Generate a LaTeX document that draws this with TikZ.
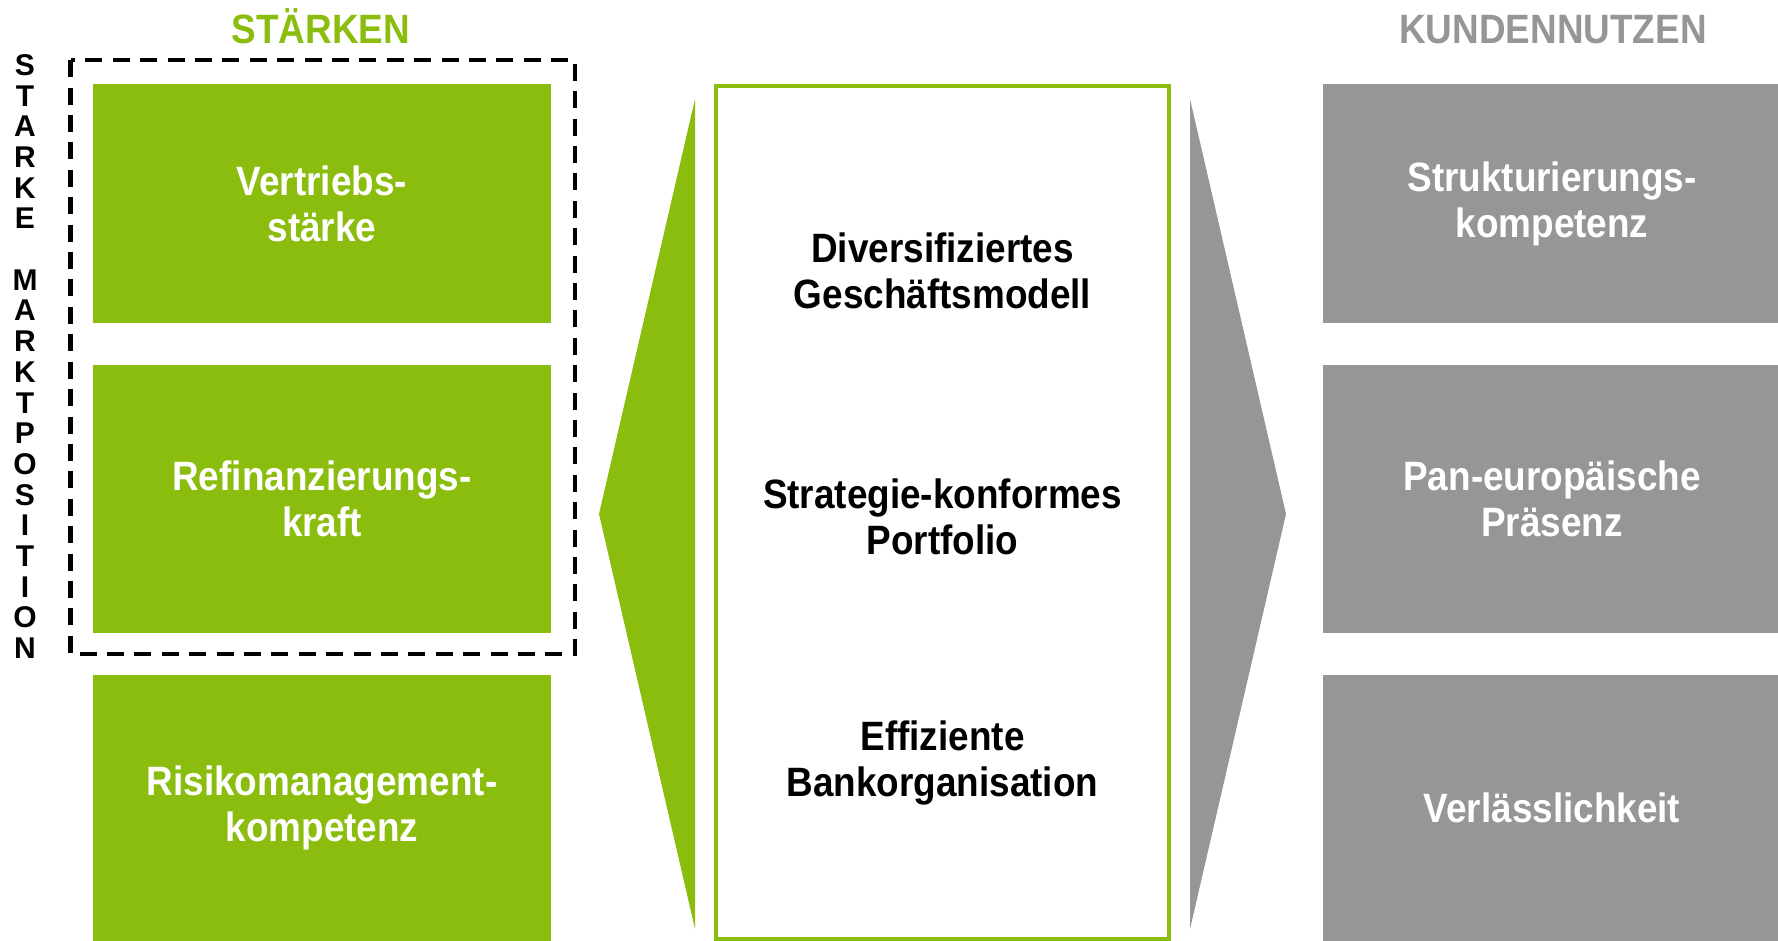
\documentclass[tikz,border=0pt]{standalone}
\usepackage{fontspec}
\setmainfont{Liberation Sans}[FakeStretch=0.9]
\newfontfamily\sidefamily{Liberation Sans}
\definecolor{lgreen}{HTML}{8BBD0F}
\definecolor{lgrey}{HTML}{969696}
\newcommand{\boxfont}{\bfseries\fontsize{20.5}{23}\selectfont}
\newcommand{\sidefont}{\sidefamily\bfseries\fontsize{15}{15.35}\selectfont}

\begin{document}
\begin{tikzpicture}[x = .5pt, y = -.5pt,
  box/.style = {inner sep=0, minimum width=229pt, align=center, text=white, font=\boxfont},
  strength/.style = {box, fill=lgreen},
  benefit/.style = {box, fill=lgrey},
  core/.style = {align=center, font=\boxfont},
  head/.style = {anchor=base, font=\boxfont}]
\useasboundingbox (0,0) rectangle (1778,941);

% headings
\node[head, text=lgreen] (staerken) at (321, 44) {STÄRKEN};
\node[head, text=lgrey] (nutzen) at (1553, 44) {KUNDENNUTZEN};

% left column
\node[strength, minimum height=119.5pt] (vertrieb) at (322, 203.5) {Vertriebs-\\stärke};
\node[strength, minimum height=134pt] (refi) at (322, 499) {Refinanzierungs-\\kraft};
\node[strength, minimum height=133pt] (risiko) at (322, 808) {Risikomanagement-\\kompetenz};

\draw[line width=2.15pt, dash pattern=on 8.5pt off 5.2pt] (70.5, 60.3) rectangle (575, 654);
\node[font=\sidefont, align=center, inner sep=0] (markt) at (25, 356.5)
  {S\\T\\A\\R\\K\\E\\[15.35pt]M\\A\\R\\K\\T\\P\\O\\S\\I\\T\\I\\O\\N};

% middle
\fill[lgreen] (695, 99) -- (599, 514) -- (695, 929) -- cycle;
\node[draw=lgreen, line width=2pt, inner sep=0, minimum width=226.5pt, minimum height=426.5pt] (mitte) at (942.5, 512.5) {};
\node[core] (modell) at (942.5, 271) {Diversifiziertes\\Geschäftsmodell};
\node[core] (portfolio) at (942.5, 517) {Strategie-konformes\\Portfolio};
\node[core] (orga) at (942.5, 763) {Effiziente\\Bankorganisation};
\fill[lgrey] (1190, 99) -- (1286, 514) -- (1190, 929) -- cycle;

% right column
\node[benefit, minimum height=119.5pt] (struktur) at (1552, 203.5) {Strukturierungs-\\kompetenz};
\node[benefit, minimum height=134pt] (praesenz) at (1552, 499) {Pan-europäische\\Präsenz};
\node[benefit, minimum height=133pt] (verlass) at (1552, 808) {Verlässlichkeit};

\end{tikzpicture}
\end{document}
